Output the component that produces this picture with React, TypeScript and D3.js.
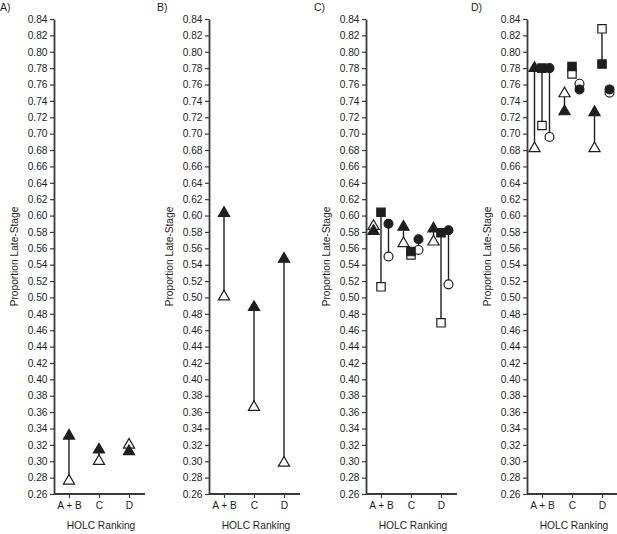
import React, { useEffect, useRef } from 'react';
import * as d3 from 'd3';

// chart data
const categories = ['A + B', 'C', 'D'];
const panelLabels = ['A)', 'B)', 'C)', 'D)'];
const yTickValues = [
  0.26, 0.28, 0.3, 0.32, 0.34, 0.36, 0.38, 0.4, 0.42, 0.44, 0.46, 0.48, 0.5, 0.52, 0.54,
  0.56, 0.58, 0.6, 0.62, 0.64, 0.66, 0.68, 0.7, 0.72, 0.74, 0.76, 0.78, 0.8, 0.82, 0.84,
];

// panel A (triangles only)
const aTriFilled = [0.331, 0.314, 0.312];
const aTriOpen = [0.276, 0.3, 0.32];

// panel B (triangles only)
const bTriFilled = [0.603, 0.488, 0.547];
const bTriOpen = [0.501, 0.366, 0.298];

// panel C
const cTriFilled = [0.581, 0.586, 0.584];
const cTriOpen = [0.587, 0.566, 0.568];
const cSqFilled = [0.604, 0.556, 0.579];
const cSqOpen = [0.513, 0.552, 0.469];
const cCirFilled = [0.59, 0.571, 0.582];
const cCirOpen = [0.55, 0.558, 0.516];

// panel D
const dTriFilled = [0.78, 0.727, 0.726];
const dTriOpen = [0.682, 0.749, 0.682];
const dSqFilled = [0.78, 0.782, 0.785];
const dSqOpen = [0.71, 0.773, 0.828];
const dCirFilled = [0.78, 0.754, 0.754];
const dCirOpen = [0.696, 0.761, 0.75];

type Series = { shape: 'tri' | 'sq' | 'cir'; filled: number[]; open: number[] };

const panels: Series[][] = [
  [{ shape: 'tri', filled: aTriFilled, open: aTriOpen }],
  [{ shape: 'tri', filled: bTriFilled, open: bTriOpen }],
  [
    { shape: 'tri', filled: cTriFilled, open: cTriOpen },
    { shape: 'sq', filled: cSqFilled, open: cSqOpen },
    { shape: 'cir', filled: cCirFilled, open: cCirOpen },
  ],
  [
    { shape: 'tri', filled: dTriFilled, open: dTriOpen },
    { shape: 'sq', filled: dSqFilled, open: dSqOpen },
    { shape: 'cir', filled: dCirFilled, open: dCirOpen },
  ],
];

const W = 617;
const H = 534;
const axisXs = [54, 209, 366, 527];
const labelXs = [0, 157, 314, 471];
const ink = '#1e1e1e';
const axisInk = '#3a3a3a';
const font = 'Arial, "Liberation Sans", sans-serif';

const App = () => {
  const svgRef = useRef<SVGSVGElement | null>(null);

  useEffect(() => {
    const svg = d3.select(svgRef.current);
    svg.selectAll('*').remove();

    const y = d3.scaleLinear().domain([0.26, 0.84]).range([494, 19]);

    const symbols = {
      tri: d3.symbol().type(d3.symbolTriangle).size(54),
      sq: d3.symbol().type(d3.symbolSquare).size(70),
      cir: d3.symbol().type(d3.symbolCircle).size(62),
    };
    const offsets = { tri: -7.5, sq: 0, cir: 7.5 };

    panels.forEach((series, pi) => {
      const ax = axisXs[pi];
      const g = svg.append('g');
      const x = d3.scalePoint<string>().domain(categories).range([ax + 15, ax + 75]);

      // panel letter
      g.append('text')
        .attr('x', labelXs[pi])
        .attr('y', 11)
        .attr('font-size', 10.5)
        .attr('font-family', font)
        .attr('fill', ink)
        .text(panelLabels[pi]);

      // y axis
      const yAxis = g.append('g')
        .attr('transform', `translate(${ax},0)`)
        .call(d3.axisLeft(y).tickValues(yTickValues).tickFormat(d3.format('.2f')).tickSize(4).tickSizeOuter(0));
      yAxis.select('.domain').attr('stroke', axisInk).attr('stroke-width', 1.8);
      yAxis.selectAll('.tick line').attr('stroke', axisInk).attr('stroke-width', 1.2);
      yAxis.selectAll('.tick text')
        .attr('font-size', 10.2)
        .attr('font-family', font)
        .attr('fill', ink)
        .attr('x', -6.5);

      // x axis
      const xAxis = g.append('g')
        .attr('transform', 'translate(0,494)')
        .call(d3.axisBottom(x).tickSize(4).tickSizeOuter(0));
      xAxis.select('.domain')
        .attr('d', `M${ax},0H${ax + 91}`)
        .attr('stroke', axisInk)
        .attr('stroke-width', 1.8);
      xAxis.selectAll('.tick line').attr('stroke', axisInk).attr('stroke-width', 1.2);
      xAxis.selectAll('.tick text')
        .attr('font-size', 10.2)
        .attr('font-family', font)
        .attr('fill', ink)
        .attr('y', 8);

      // axis titles
      g.append('text')
        .attr('transform', `translate(${ax - 36},${(y(0.26) + y(0.84)) / 2}) rotate(-90)`)
        .attr('text-anchor', 'middle')
        .attr('font-size', 10.2)
        .attr('font-family', font)
        .attr('fill', ink)
        .text('Proportion Late-Stage');
      g.append('text')
        .attr('x', ax + 47)
        .attr('y', 529)
        .attr('text-anchor', 'middle')
        .attr('font-size', 10.2)
        .attr('font-family', font)
        .attr('fill', ink)
        .text('HOLC Ranking');

      const px = (s: Series, i: number) => (x(categories[i]) as number) + (series.length > 1 ? offsets[s.shape] : 0);

      // connecting lines
      series.forEach((s) => {
        g.selectAll(null)
          .data(categories)
          .enter()
          .append('line')
          .attr('x1', (_, i) => px(s, i))
          .attr('x2', (_, i) => px(s, i))
          .attr('y1', (_, i) => y(s.filled[i]))
          .attr('y2', (_, i) => y(s.open[i]))
          .attr('stroke', ink)
          .attr('stroke-width', 1.4);
      });

      // open markers
      series.forEach((s) => {
        g.selectAll(null)
          .data(s.open)
          .enter()
          .append('path')
          .attr('d', symbols[s.shape]() as string)
          .attr('transform', (d, i) => `translate(${px(s, i)},${y(d)})`)
          .attr('fill', '#fff')
          .attr('stroke', ink)
          .attr('stroke-width', 1.2);
      });

      // filled markers
      series.forEach((s) => {
        g.selectAll(null)
          .data(s.filled)
          .enter()
          .append('path')
          .attr('d', symbols[s.shape]() as string)
          .attr('transform', (d, i) => `translate(${px(s, i)},${y(d)})`)
          .attr('fill', ink)
          .attr('stroke', ink)
          .attr('stroke-width', 1.2);
      });
    });
  }, []);

  return (
    <svg
      ref={svgRef}
      width={W}
      height={H}
      style={{ position: 'absolute', left: 0, top: 0, background: '#fff', fontFamily: font }}
    />
  );
};

export default App;
